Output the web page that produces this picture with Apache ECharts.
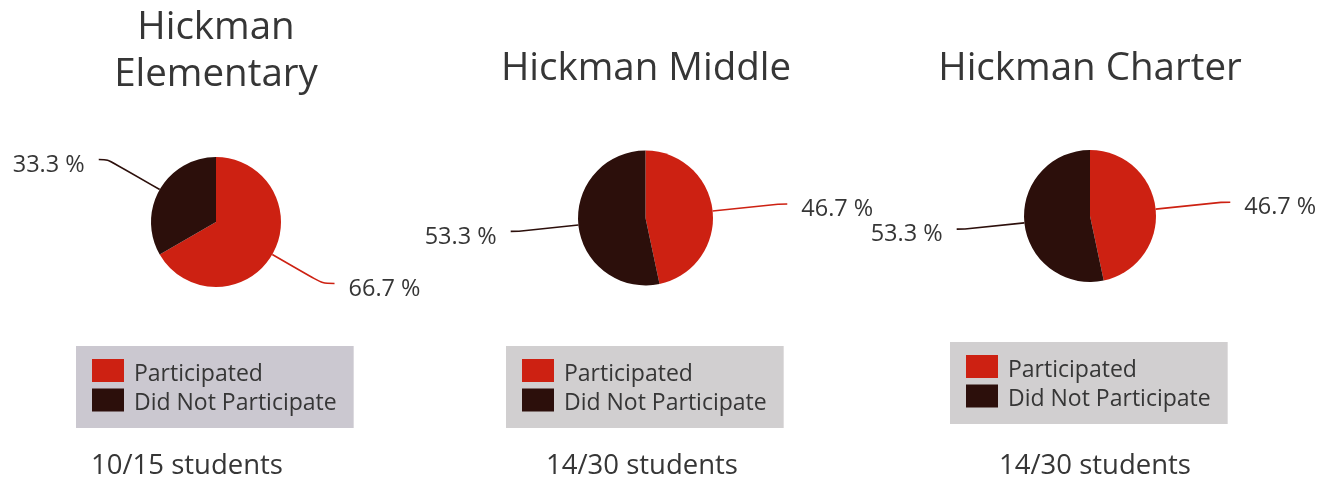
<!DOCTYPE html>
<html>
<head>
<meta charset="utf-8">
<script src="https://cdn.jsdelivr.net/npm/echarts@6/dist/echarts.min.js"></script>
<style>
html,body{margin:0;padding:0;background:#fff;}
#chart{width:1323px;height:487px;}
</style>
</head>
<body>
<div id="chart"></div>
<script>
// ---- data ----
const categories = ['Participated', 'Did Not Participate'];
const schools = ['Hickman\nElementary', 'Hickman Middle', 'Hickman Charter'];
const participated = [10, 14, 14];
const notParticipated = [5, 16, 16];
const countLabels = ['10/15 students', '14/30 students', '14/30 students'];

// ---- layout / style ----
const colors = ['#cd2112', '#2c0f0b'];
const textColor = '#363636';
const font = '"Open Sans", "Noto Sans", sans-serif';
const pieCenters = [[216, 222], [645.5, 218], [1090, 216]];
const pieRadius = [65, 67.5, 66];
// [length, length2] for participated / not participated slices
const lineRed = [[58, 12], [66, 9], [66, 9]];
const lineDark = [[60, 9], [60, 8], [60, 8]];
const titlePos = [[216, 52], [646, 69], [1090, 69]];
const countPos = [[187, 466], [642, 466], [1095, 466]];
const legendPos = [[76, 346], [506, 346], [950, 342]];
const legendBg = ['#cbc8d0', '#d1cfd0', '#d1cfd0'];

const series = schools.map((s, i) => ({
  type: 'pie',
  name: s,
  center: pieCenters[i],
  radius: pieRadius[i],
  startAngle: 90,
  clockwise: true,
  percentPrecision: 1,
  avoidLabelOverlap: false,
  color: colors,
  itemStyle: { borderWidth: 0 },
  labelLayout: { hideOverlap: false },
  label: {
    show: true,
    formatter: '{g|}\n{v|{d} %}',
    color: textColor,
    distanceToLabelLine: 14,
    overflow: 'none',
    rich: {
      g: { fontSize: 4, lineHeight: 11, fontFamily: font },
      v: { fontSize: 23.5, lineHeight: 24, fontFamily: font, color: textColor }
    }
  },
  labelLine: {
    show: true,
    smooth: 0.3,
    lineStyle: { width: 1.6 }
  },
  emphasis: { scale: false },
  data: [
    { name: categories[0], value: participated[i], labelLine: { length: lineRed[i][0], length2: lineRed[i][1] } },
    { name: categories[1], value: notParticipated[i], labelLine: { length: lineDark[i][0], length2: lineDark[i][1] } }
  ]
}));

const legends = schools.map((s, i) => ({
  data: categories,
  orient: 'vertical',
  left: legendPos[i][0],
  top: legendPos[i][1],
  backgroundColor: legendBg[i],
  padding: [11, 17, 13, 16],
  itemWidth: 32,
  itemHeight: 23,
  itemGap: 1,
  icon: 'rect',
  selectedMode: false,
  formatter: name => '{g|}\n{t|' + name + '}',
  textStyle: {
    fontFamily: font, fontSize: 23, color: textColor,
    rich: {
      g: { fontSize: 4, lineHeight: 7, fontFamily: font },
      t: { fontFamily: font, fontSize: 23, lineHeight: 23, color: textColor, padding: [0, 0, 0, 5] }
    }
  }
}));

const graphics = [];
schools.forEach((s, i) => {
  graphics.push({
    type: 'text', x: titlePos[i][0], y: titlePos[i][1],
    style: { text: s, fill: textColor, font: '38.5px ' + font, textAlign: 'center', textVerticalAlign: 'middle', lineHeight: 47 }
  });
  graphics.push({
    type: 'text', x: countPos[i][0], y: countPos[i][1],
    style: { text: countLabels[i], fill: textColor, font: '27.5px ' + font, textAlign: 'center', textVerticalAlign: 'middle' }
  });
});

const chart = echarts.init(document.getElementById('chart'));
chart.setOption({
  animation: false,
  legend: legends,
  series: series,
  graphic: graphics
});
</script>
</body>
</html>
